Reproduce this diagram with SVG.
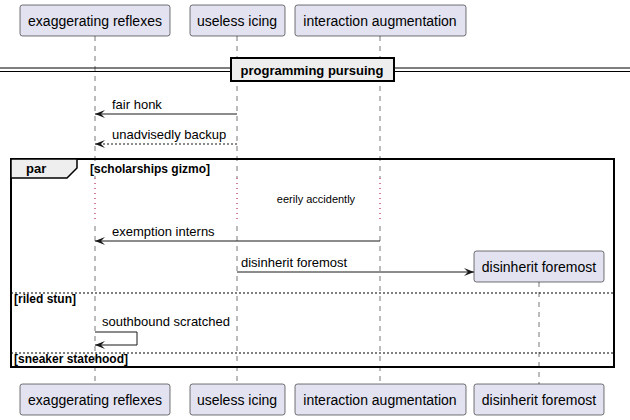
<svg xmlns="http://www.w3.org/2000/svg" width="630" height="420" viewBox="0 0 630 420">
<defs>
<style>
.pbox{fill:#E2E2F0;stroke:#181818;stroke-width:0.6}
.ptxt{font-family:"Liberation Sans",Arial,sans-serif;font-size:14px;fill:#000;text-anchor:middle}
.life{stroke:#555;stroke-width:0.8;stroke-dasharray:5,5;fill:none}
.delay{stroke:#A80036;stroke-width:1;stroke-dasharray:1,4;fill:none}
.msg{stroke:#181818;stroke-width:1;fill:none}
.dash{stroke-dasharray:2,2}
.mtxt{font-family:"Liberation Sans",Arial,sans-serif;font-size:13px;fill:#000}
.gtxt{font-family:"Liberation Sans",Arial,sans-serif;font-size:12px;font-weight:bold;fill:#000}
.sep{stroke:#000;stroke-width:1;stroke-dasharray:2,2}
</style>
<marker id="ah" viewBox="0 0 10 8" refX="10" refY="4" markerWidth="10" markerHeight="8" orient="auto" markerUnits="userSpaceOnUse">
<polygon points="10,4 0,0 4,4 0,8" fill="#181818"/>
</marker>
</defs>
<g id="lifelines">
<line class="life" x1="95" y1="36" x2="95" y2="384"/>
<line class="life" x1="237" y1="36" x2="237" y2="384"/>
<line class="life" x1="380" y1="36" x2="380" y2="384"/>
<line class="life" x1="539" y1="282" x2="539" y2="384"/>
</g>
<g id="divider">
<line x1="0" y1="68" x2="630" y2="68" stroke="#000" stroke-width="1.2"/>
<line x1="0" y1="71.5" x2="630" y2="71.5" stroke="#000" stroke-width="1.2"/>
<rect x="231" y="58" width="163" height="23" fill="#EEEEEE" stroke="#000" stroke-width="2"/>
<text x="312" y="75" class="gtxt" style="font-size:13px" text-anchor="middle">programming pursuing</text>
</g>
<g id="group-par">
<rect x="11" y="159" width="603" height="208" fill="none" stroke="#000" stroke-width="2"/>
<polygon points="11,159 77,159 77,168 67,178 11,178" fill="#EEEEEE" stroke="#000" stroke-width="1.5"/>
<text x="26" y="173" class="gtxt" style="font-size:13px">par</text>
<text x="90" y="173" class="gtxt">[scholarships gizmo]</text>
<line class="sep" x1="11" y1="293" x2="614" y2="293"/>
<text x="14" y="303" class="gtxt">[riled stun]</text>
<line class="sep" x1="11" y1="353" x2="614" y2="353"/>
<text x="14" y="363" class="gtxt">[sneaker statehood]</text>
</g>
<g id="delay">
<rect x="90" y="178" width="295" height="44" fill="#fff"/>
<line class="delay" x1="95" y1="178" x2="95" y2="222"/>
<line class="delay" x1="237" y1="178" x2="237" y2="222"/>
<line class="delay" x1="380" y1="178" x2="380" y2="222"/>
<text x="316" y="203" class="mtxt" style="font-size:11px" text-anchor="middle">eerily accidently</text>
</g>
<g id="connectors">
<line class="msg" x1="237" y1="114" x2="95" y2="114" marker-end="url(#ah)"/>
<text x="112" y="109" class="mtxt">fair honk</text>
<line class="msg dash" x1="237" y1="144" x2="95" y2="144" marker-end="url(#ah)"/>
<text x="112" y="139" class="mtxt">unadvisedly backup</text>
<line class="msg" x1="380" y1="241" x2="95" y2="241" marker-end="url(#ah)"/>
<text x="112" y="236" class="mtxt">exemption interns</text>
<line class="msg" x1="237" y1="272" x2="474" y2="272" marker-end="url(#ah)"/>
<text x="241" y="267" class="mtxt">disinherit foremost</text>
<polyline class="msg" points="95,332 137,332 137,345 95,345" marker-end="url(#ah)"/>
<text x="102" y="326" class="mtxt">southbound scratched</text>
</g>
<g id="p1-top"><rect class="pbox" x="20" y="5" width="150" height="31" rx="2.5"/><text class="ptxt" x="95" y="26">exaggerating reflexes</text></g>
<g id="p2-top"><rect class="pbox" x="190" y="5" width="95" height="31" rx="2.5"/><text class="ptxt" x="237" y="26">useless icing</text></g>
<g id="p3-top"><rect class="pbox" x="295" y="5" width="171" height="31" rx="2.5"/><text class="ptxt" x="380" y="26">interaction augmentation</text></g>
<g id="p4-created"><rect class="pbox" x="474" y="251" width="130" height="31" rx="2.5"/><text class="ptxt" x="539" y="272">disinherit foremost</text></g>
<g id="p1-bottom"><rect class="pbox" x="20" y="384" width="150" height="31" rx="2.5"/><text class="ptxt" x="95" y="405">exaggerating reflexes</text></g>
<g id="p2-bottom"><rect class="pbox" x="190" y="384" width="95" height="31" rx="2.5"/><text class="ptxt" x="237" y="405">useless icing</text></g>
<g id="p3-bottom"><rect class="pbox" x="295" y="384" width="171" height="31" rx="2.5"/><text class="ptxt" x="380" y="405">interaction augmentation</text></g>
<g id="p4-bottom"><rect class="pbox" x="474" y="384" width="130" height="31" rx="2.5"/><text class="ptxt" x="539" y="405">disinherit foremost</text></g>
</svg>
